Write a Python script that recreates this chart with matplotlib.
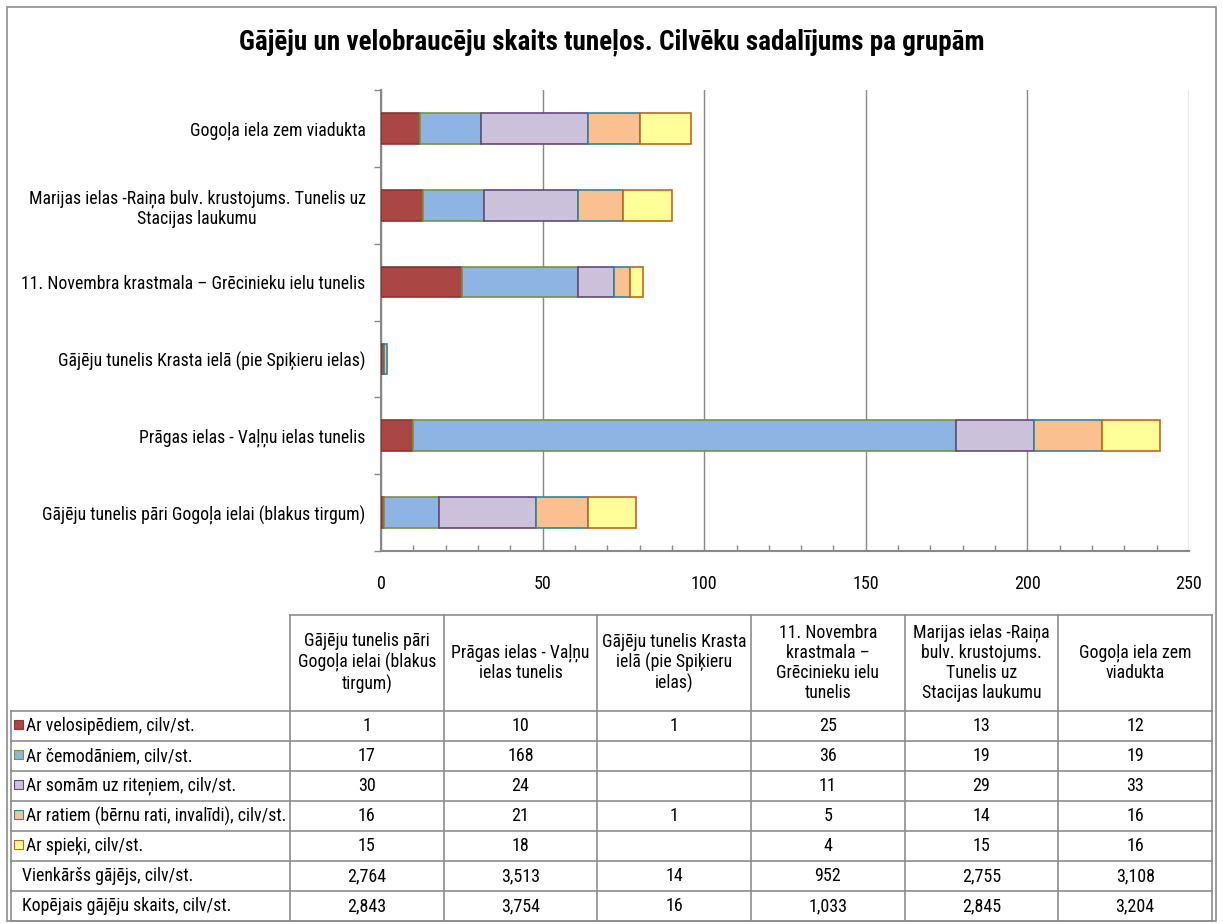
import matplotlib
matplotlib.use("Agg")
import matplotlib.pyplot as plt
from matplotlib.patches import Rectangle
import numpy as np

plt.rcParams['font.family'] = ['Roboto Condensed', 'Liberation Sans', 'DejaVu Sans']

# ---- data -------------------------------------------------------------
title = "Gājēju un velobraucēju skaits tuneļos. Cilvēku sadalījums pa grupām"

# tunnel names as they appear on the bar axis (bottom to top)
axis_labels = [
    "Gājēju tunelis pāri Gogoļa ielai (blakus tirgum)",
    "Prāgas ielas - Vaļņu ielas tunelis",
    "Gājēju tunelis Krasta ielā (pie Spiķieru ielas)",
    "11. Novembra krastmala – Grēcinieku ielu tunelis",
    "Marijas ielas -Raiņa bulv. krustojums. Tunelis uz\nStacijas laukumu",
    "Gogoļa iela zem viadukta",
]
# same tunnels, wrapped for the table header
header_labels = [
    "Gājēju tunelis pāri\nGogoļa ielai (blakus\ntirgum)",
    "Prāgas ielas - Vaļņu\nielas tunelis",
    "Gājēju tunelis Krasta\nielā (pie Spiķieru\nielas)",
    "11. Novembra\nkrastmala –\nGrēcinieku ielu\ntunelis",
    "Marijas ielas -Raiņa\nbulv. krustojums.\nTunelis uz\nStacijas laukumu",
    "Gogoļa iela zem\nviadukta",
]

row_labels = [
    "Ar velosipēdiem, cilv/st.",
    "Ar čemodāniem, cilv/st.",
    "Ar somām uz riteņiem, cilv/st.",
    "Ar ratiem (bērnu rati, invalīdi), cilv/st.",
    "Ar spieķi, cilv/st.",
    "Vienkāršs gājējs, cilv/st.",
    "Kopējais gājēju skaits, cilv/st.",
]

bikes = [1, 10, 1, 25, 13, 12]
suitcases = [17, 168, None, 36, 19, 19]
wheeled_bags = [30, 24, None, 11, 29, 33]
strollers = [16, 21, 1, 5, 14, 16]
canes = [15, 18, None, 4, 15, 16]
plain_walkers = [2764, 3513, 14, 952, 2755, 3108]
total_pedestrians = [2843, 3754, 16, 1033, 2845, 3204]

x_ticks = [0, 50, 100, 150, 200, 250]

# ---- styling ----------------------------------------------------------
fills = ['#AA4643', '#8EB4E3', '#CCC1DA', '#FAC090', '#FFFF99']
edges = ['#8A3532', '#77933C', '#604A7B', '#31859C', '#C0661E']
grid_c = '#888888'
line_c = '#8C8C8C'
fs = 12.8

W, H = 1223, 924
fig = plt.figure(figsize=(W / 100, H / 100), dpi=100)

# pixel-space canvas for frame, title and data table
bg = fig.add_axes([0, 0, 1, 1], zorder=0)
bg.set_xlim(0, W)
bg.set_ylim(H, 0)
bg.axis('off')

bg.add_patch(Rectangle((7, 7), 1209, 914, fill=False, edgecolor=line_c, lw=1.2))
bg.text(612, 42, title, ha='center', va='center', fontsize=19.5, fontweight='bold')

# ---- stacked bars -----------------------------------------------------
ax = fig.add_axes([381 / W, 1 - 551 / H, (1189 - 381) / W, (551 - 90) / H], zorder=1)
ax.patch.set_alpha(0)

stack = [bikes, suitcases, wheeled_bags, strollers, canes]
y = np.arange(len(axis_labels))
left = np.zeros(len(y))
for vals, fc, ec in zip(stack, fills, edges):
    present = np.array([v is not None for v in vals])
    v = np.array([0 if x is None else x for x in vals], dtype=float)
    ax.barh(y[present], v[present], left=left[present], height=0.4,
            color=fc, edgecolor=ec, linewidth=1.2, zorder=3)
    left += v

ax.set_xlim(x_ticks[0], x_ticks[-1])
ax.set_ylim(-0.5, len(y) - 0.5)
ax.set_xticks(x_ticks)
ax.set_xticks(np.arange(0, x_ticks[-1] + 1, 10), minor=True)
ax.xaxis.grid(True, which='major', color=grid_c, lw=1.0, zorder=0)
ax.set_axisbelow(True)
ax.tick_params(axis='x', which='major', length=0, pad=17, labelsize=13)
ax.tick_params(axis='x', which='minor', direction='in', length=4, color=grid_c, width=1)

ax.set_yticks(y)
ax.set_yticklabels(axis_labels)
for lab in ax.get_yticklabels():
    lab.set_multialignment('center')
ax.set_yticks(np.arange(-0.5, len(y), 1), minor=True)
ax.tick_params(axis='y', which='major', length=0, pad=11, labelsize=fs)
ax.tick_params(axis='y', which='minor', direction='out', length=5, color=grid_c, width=1)

for s in ('top', 'right'):
    ax.spines[s].set_visible(False)
for s in ('left', 'bottom'):
    ax.spines[s].set_color(grid_c)
    ax.spines[s].set_linewidth(1.5)

# ---- data table -------------------------------------------------------
col_x = np.linspace(290, 1212, len(header_labels) + 1)
row_y = np.linspace(711, 921, len(row_labels) + 1)
head_top = 615
tbl_left = 11

bg.plot([col_x[0], col_x[-1]], [head_top, head_top], color=line_c, lw=1.2)
for cx in col_x:
    bg.plot([cx, cx], [head_top, row_y[-1]], color=line_c, lw=1.2)
for ry in row_y:
    bg.plot([tbl_left, col_x[-1]], [ry, ry], color=line_c, lw=1.2)
bg.plot([tbl_left, tbl_left], [row_y[0], row_y[-1]], color=line_c, lw=1.2)

for i, lab in enumerate(header_labels):
    bg.text((col_x[i] + col_x[i + 1]) / 2, (head_top + row_y[0]) / 2, lab,
            ha='center', va='center', multialignment='center',
            fontsize=fs, linespacing=1.15)

table_rows = stack + [plain_walkers, total_pedestrians]
for r, (lab, vals) in enumerate(zip(row_labels, table_rows)):
    cy = (row_y[r] + row_y[r + 1]) / 2
    if r < len(fills):
        bg.add_patch(Rectangle((14, cy - 6), 9, 9, facecolor=fills[r],
                               edgecolor=edges[r], lw=0.8))
        bg.text(26, cy, lab, ha='left', va='center', fontsize=fs)
    else:
        bg.text(22, cy, lab, ha='left', va='center', fontsize=fs)
    for i, v in enumerate(vals):
        if v is None:
            continue
        bg.text((col_x[i] + col_x[i + 1]) / 2, cy, f"{v:,}",
                ha='center', va='center', fontsize=13)

fig.savefig("out.png", dpi=100)
